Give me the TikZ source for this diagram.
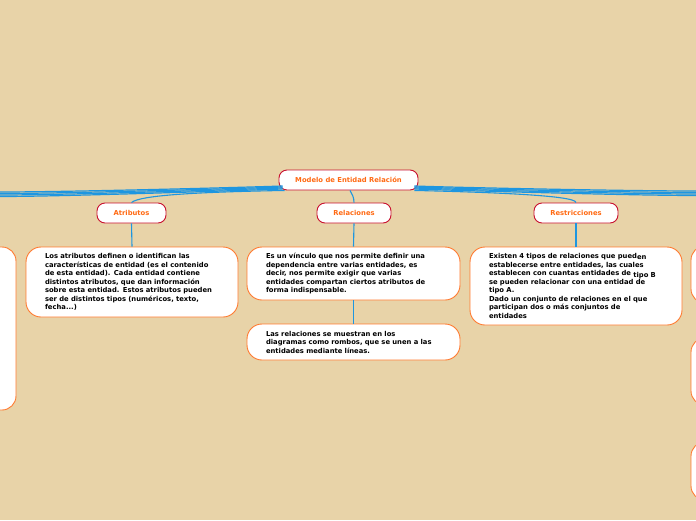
\documentclass[tikz,border=0pt]{standalone}
\usepackage{fontspec}
\setmainfont{DejaVu Sans}
\definecolor{bg}{HTML}{E8D3A8}
\definecolor{linkblue}{HTML}{1E96E0}
\definecolor{headred}{HTML}{C8102E}
\definecolor{headtext}{HTML}{FF6A13}
\definecolor{boxorange}{HTML}{FF7A30}
\tikzset{
  head/.style={draw=headred, line width=0.9pt, fill=white, rounded corners=8pt,
    minimum height=20pt, inner xsep=6pt, text=headtext,
    font=\fontsize{6.8}{7.5}\selectfont\bfseries},
  textbox/.style={draw=boxorange, line width=0.9pt, fill=white, rounded corners=15pt,
    inner xsep=19pt, inner ysep=4pt, align=left, text=black,
    font=\fontsize{6.8}{8.5}\selectfont\bfseries},
  sidebox/.style={draw=boxorange, line width=0.9pt, fill=white, rounded corners=14pt},
  link/.style={draw=linkblue, line width=1.1pt},
  bundle/.style={draw=linkblue, line width=1.2pt},
}
\begin{document}
\begin{tikzpicture}[x=1pt,y=-1pt]
\useasboundingbox (0,0) rectangle (696,520);
\fill[bg] (0,0) rectangle (696,520);
\clip (0,0) rectangle (696,520);

% side boxes (partially visible)
\draw[sidebox] (-40,247) rectangle (16,410);
\draw[sidebox] (691,246) rectangle (740,303);
\draw[sidebox] (691,338) rectangle (740,405);
\draw[sidebox] (691,442) rectangle (740,500);

% free ends of the bundle lines
\coordinate (L1) at (0,192);
\coordinate (L2) at (0,193.5);
\coordinate (L3) at (0,195);
\coordinate (L4) at (0,196.5);
\coordinate (R1) at (696,191);
\coordinate (R2) at (696,192.5);
\coordinate (R3) at (696,194);
\coordinate (R4) at (696,195.5);

% central node
\node[head, minimum width=139pt] (main) at (348.5,180) {Modelo de Entidad Relación};

% bundle lines
\foreach \c/\s in {L1/186, L2/187, L3/188, L4/189}{
  \draw[bundle] (main.south west |- 0,\s) ++(4,0) .. controls +(-60,2) and +(60,0) .. (\c);
}
\foreach \c/\s in {R1/186, R2/187, R3/188, R4/189}{
  \draw[bundle] (main.south east |- 0,\s) ++(-4,0) .. controls +(60,2) and +(-60,0) .. (\c);
}

% headings
\node[head, minimum width=69pt] (atr) at (131.5,213) {Atributos};
\node[head, minimum width=74pt] (rel) at (354,213) {Relaciones};
\node[head, minimum width=84pt] (res) at (576,213) {Restricciones};

% text boxes
\node[textbox, text width=174pt, minimum height=70pt] (atrbox) at (132,282)
{Los atributos definen o identifican las\\
características de entidad (es el contenido\\
de esta entidad). Cada entidad contiene\\
distintos atributos, que dan información\\
sobre esta entidad. Estos atributos pueden\\
ser de distintos tipos (numéricos, texto,\\
fecha...)};

\node[textbox, text width=175pt, minimum height=53pt] (relbox1) at (353.5,273.5)
{Es un vínculo que nos permite definir una\\
dependencia entre varias entidades, es\\
decir, nos permite exigir que varias\\
entidades compartan ciertos atributos de\\
forma indispensable.};

\node[textbox, text width=175pt, minimum height=36pt] (relbox2) at (353.5,342)
{Las relaciones se muestran en los\\
diagramas como rombos, que se unen a las\\
entidades mediante líneas.};

\node[textbox, text width=174pt, minimum height=78pt] (resbox) at (576,286)
{Existen 4 tipos de relaciones que pued\raisebox{-1pt}{en}\\
establecerse entre entidades, las cuales\\
establecen con cuantas entidades de \raisebox{-1.5pt}{tipo B}\\
se pueden relacionar con una entidad de\\
tipo A.\\
Dado un conjunto de relaciones en el que\\
participan dos o más conjuntos de\\
entidades};

% connectors
\draw[link] (main.south west) ++(6,0) .. controls (200,192) and (140,195) .. (atr.north);
\draw[link] (main.south) ++(1.5,0) .. controls (352,194) and (354,197) .. (rel.north);
\draw[link] (main.south east) ++(-4,0) .. controls (480,192) and (576,195) .. (res.north);
\draw[link] (atr.south) -- (atrbox.north);
\draw[link] (rel.south) -- (relbox1.north);
\draw[link] (relbox1.south) -- (relbox2.north);
\draw[link] (res.south) -- (resbox.north);
\end{tikzpicture}
\end{document}
